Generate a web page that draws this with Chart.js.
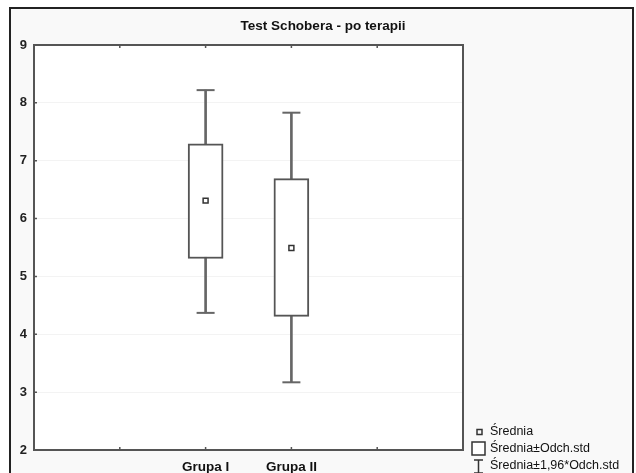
<!DOCTYPE html>
<html>
<head>
<meta charset="utf-8">
<script src="https://cdn.jsdelivr.net/npm/chart.js@4/dist/chart.umd.min.js"></script>
<style>
  html, body { margin: 0; padding: 0; background: #fff; }
  #wrap { width: 636px; height: 473px; position: relative; }
</style>
</head>
<body>
<div id="wrap"><canvas id="chart" width="636" height="473"></canvas></div>
<script>
const titleText = 'Test Schobera - po terapii';
const categories = ['Grupa I', 'Grupa II'];
const categoryPos = [2, 3];
const means = [6.31, 5.49];
const boxLow = [5.31, 4.31];
const boxHigh = [7.29, 6.69];
const whiskLow = [4.37, 3.17];
const whiskHigh = [8.22, 7.83];
const yTicks = [2, 3, 4, 5, 6, 7, 8, 9];
const xTickMarks = [1, 2, 3, 4];
const legendLabels = ['Średnia', 'Średnia±Odch.std', 'Średnia±1,96*Odch.std'];

const ink = '#555';
const fontFam = '"Liberation Sans", Arial, sans-serif';

const pts = arr => arr.map((v, i) => ({ x: categoryPos[i], y: v }));
const ranges = (lo, hi) => lo.map((v, i) => ({ x: categoryPos[i], y: [v, hi[i]] }));

const framePlugin = {
    id: 'frame',
    beforeDraw(chart) {
        const ctx = chart.ctx;
        ctx.save();
        ctx.fillStyle = '#fff';
        ctx.fillRect(0, 0, chart.width, chart.height);
        ctx.fillStyle = '#f9f9f9';
        ctx.fillRect(10, 8, 623, 470);
        ctx.strokeStyle = '#222';
        ctx.lineWidth = 2;
        ctx.strokeRect(10, 8, 623, 470);
        const a = chart.chartArea;
        ctx.fillStyle = '#fff';
        ctx.fillRect(a.left, a.top, a.right - a.left, a.bottom - a.top);
        ctx.fillStyle = '#111';
        ctx.font = 'bold 13.5px ' + fontFam;
        ctx.textAlign = 'center';
        ctx.textBaseline = 'middle';
        ctx.fillText(titleText, 323, 26);
        ctx.restore();
    },
    afterDatasetsDraw(chart) {
        const ctx = chart.ctx;
        const a = chart.chartArea;
        const xs = chart.scales.x, ys = chart.scales.y;
        ctx.save();
        ctx.strokeStyle = ink;
        ctx.lineWidth = 2;
        ctx.strokeRect(a.left, a.top, a.right - a.left, a.bottom - a.top);
        ctx.lineWidth = 1.5;
        ctx.beginPath();
        xTickMarks.forEach(v => {
            const px = xs.getPixelForValue(v);
            ctx.moveTo(px, a.top); ctx.lineTo(px, a.top + 3);
            ctx.moveTo(px, a.bottom); ctx.lineTo(px, a.bottom - 3);
        });
        yTicks.forEach(v => {
            const py = ys.getPixelForValue(v);
            ctx.moveTo(a.left, py); ctx.lineTo(a.left + 3, py);
        });
        ctx.stroke();

        // legend
        const lx = a.right + 8;
        const tx = a.right + 27;
        const rows = [432, 449, 466];
        ctx.strokeStyle = '#333';
        ctx.lineWidth = 1.5;
        ctx.fillStyle = '#fff';
        ctx.strokeRect(lx + 6, rows[0] - 2.5, 5, 5);
        ctx.fillRect(lx + 1, rows[1] - 7, 13, 13);
        ctx.strokeRect(lx + 1, rows[1] - 7, 13, 13);
        ctx.beginPath();
        ctx.moveTo(lx + 3, rows[2] - 6); ctx.lineTo(lx + 12, rows[2] - 6);
        ctx.moveTo(lx + 7.5, rows[2] - 6); ctx.lineTo(lx + 7.5, rows[2] + 8);
        ctx.moveTo(lx + 3, rows[2] + 7); ctx.lineTo(lx + 12, rows[2] + 7);
        ctx.stroke();
        ctx.fillStyle = '#111';
        ctx.font = '12.5px ' + fontFam;
        ctx.textAlign = 'left';
        ctx.textBaseline = 'middle';
        legendLabels.forEach((t, i) => ctx.fillText(t, tx, rows[i]));
        ctx.restore();
    }
};

new Chart(document.getElementById('chart'), {
    type: 'bar',
    data: {
        datasets: [
            {
                type: 'bar',
                data: ranges(whiskLow, whiskHigh),
                backgroundColor: '#666',
                borderWidth: 0,
                barThickness: 2,
                grouped: false,
                order: 4
            },
            {
                type: 'bar',
                data: ranges(boxLow, boxHigh),
                backgroundColor: '#fff',
                borderColor: ink,
                borderWidth: 2,
                borderSkipped: false,
                barThickness: 35,
                grouped: false,
                order: 3
            },
            {
                type: 'scatter',
                data: pts(whiskLow).concat(pts(whiskHigh)),
                pointStyle: 'line',
                radius: 9,
                borderColor: '#666',
                borderWidth: 2,
                order: 2
            },
            {
                type: 'scatter',
                data: pts(means),
                pointStyle: 'rect',
                radius: 3.5,
                backgroundColor: '#fff',
                borderColor: '#333',
                borderWidth: 1.5,
                order: 1
            }
        ]
    },
    options: {
        responsive: false,
        animation: false,
        layout: { padding: { left: 0, right: 173, top: 45, bottom: 0 } },
        plugins: {
            legend: { display: false },
            title: { display: false },
            tooltip: { enabled: false }
        },
        scales: {
            x: {
                type: 'linear',
                min: 0,
                max: 5,
                offset: false,
                afterFit: s => { s.height = 23; },
                afterBuildTicks: s => { s.ticks = categoryPos.map(v => ({ value: v })); },
                grid: { display: false, drawTicks: false },
                border: { display: false },
                ticks: {
                    padding: 9,
                    color: '#111',
                    font: { family: fontFam, size: 13.5, weight: 'bold' },
                    callback: v => categories[categoryPos.indexOf(v)] ?? ''
                }
            },
            y: {
                min: 2,
                max: 9,
                afterFit: s => { s.width = 34; },
                afterBuildTicks: s => { s.ticks = yTicks.map(v => ({ value: v })); },
                grid: { color: '#f3f3f3', drawTicks: false },
                border: { display: false },
                ticks: {
                    padding: 7,
                    color: '#222',
                    font: { family: fontFam, size: 13, weight: 'bold' }
                }
            }
        }
    },
    plugins: [framePlugin]
});
</script>
</body>
</html>
